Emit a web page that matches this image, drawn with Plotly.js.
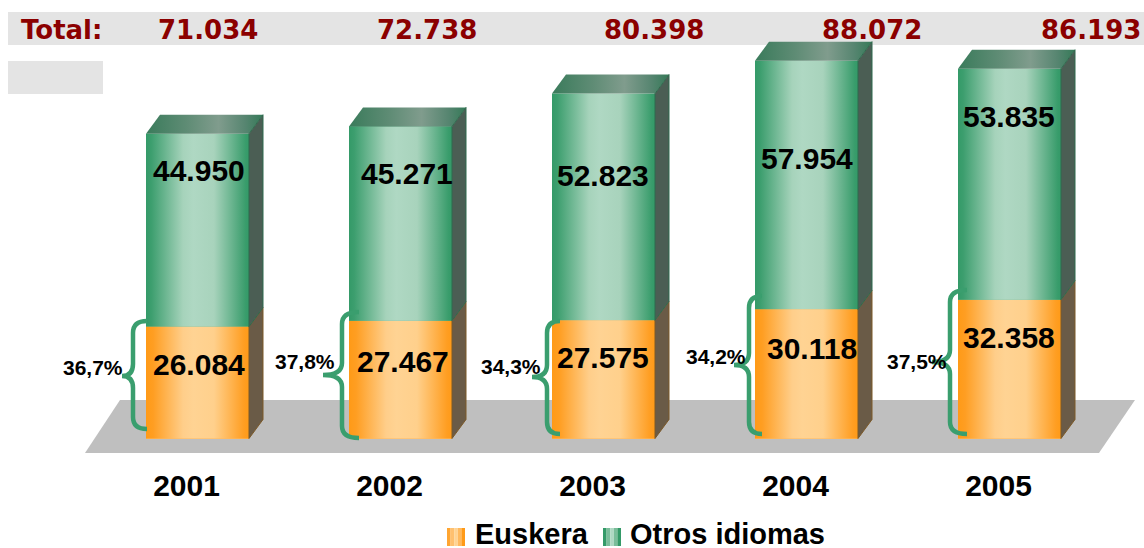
<!DOCTYPE html>
<html><head><meta charset="utf-8">
<script src="https://cdn.plot.ly/plotly-3.0.1.min.js"></script>
<style>html,body{margin:0;padding:0;background:#fff}#c{width:1144px;height:548px}</style>
</head><body><div id="c"></div>
<script>
// ---- data ----
const years = [2001, 2002, 2003, 2004, 2005];
const euskera = [26084, 27467, 27575, 30118, 32358];
const otros = [44950, 45271, 52823, 57954, 53835];
const totals = ['71.034', '72.738', '80.398', '88.072', '86.193'];
const euskeraLabels = ['26.084', '27.467', '27.575', '30.118', '32.358'];
const otrosLabels = ['44.950', '45.271', '52.823', '57.954', '53.835'];
const shares = ['36,7%', '37,8%', '34,3%', '34,2%', '37,5%'];

// ---- page layout (pixels) ----
const W = 1144, H = 548, plotBottom = 465, baseY = 438.5, pxPerUnit = 0.00429;
const x0px = 197.5, pxPerYear = 203, barPx = 103, depthX = 14, depthY = 19, tickShiftPx = 11;
const px = v => v / W, py = v => 1 - v / plotBottom;
const xRange = [years[0] - x0px / pxPerYear, years[0] + (W - x0px) / pxPerYear];
const yRange = [-(plotBottom - baseY) / pxPerUnit, baseY / pxPerUnit];
const hw = barPx / 2 / pxPerYear, dx = depthX / pxPerYear, dy = depthY / pxPerUnit;

const greenScale = [[0,'#349A68'],[0.05,'#3C9E6E'],[0.36,'#A6D3BB'],[0.46,'#AFD8C3'],[0.66,'#A8D3BC'],[0.97,'#389C6B'],[1,'#349A68']];
const orangeScale = [[0,'#FF9A17'],[0.07,'#FF9E22'],[0.36,'#FFCE8A'],[0.46,'#FFD393'],[0.66,'#FFD08C'],[0.95,'#FF9E22'],[1,'#FF9A17']];
const topScale = [[0,'#3A7B5B'],[0.35,'#5F8C75'],[0.62,'#809C8D'],[0.85,'#568570'],[1,'#357A58']];

function poly(xs, ys, opts) {
  return Object.assign({type:'scatter', mode:'lines', x:[...xs, xs[0]], y:[...ys, ys[0]],
    fill:'toself', hoverinfo:'skip', showlegend:false, line:{width:0}}, opts);
}
const grad = s => ({fillgradient:{type:'horizontal', colorscale:s}});

const traces = [
  {type:'bar', name:'Euskera', x:years, y:euskera, width:barPx/pxPerYear, marker:{color:'#FFB95F', line:{width:0}}, showlegend:false},
  {type:'bar', name:'Otros idiomas', x:years, y:otros, width:barPx/pxPerYear, marker:{color:'#6DB592', line:{width:0}}, showlegend:false}
];
years.forEach((yr, i) => {
  const l = yr - hw, r = yr + hw, b = euskera[i], t = euskera[i] + otros[i];
  traces.push(poly([l,r,r,l],[0,0,b,b], grad(orangeScale)));
  traces.push(poly([l,r,r,l],[b,b,t,t], grad(greenScale)));
  traces.push(poly([l,r,r+dx,l+dx],[t,t,t+dy,t+dy], grad(topScale)));
  traces.push(poly([r,r+dx,r+dx,r],[0,dy,b+dy,b], {fillcolor:'#6A5B47', line:{width:1,color:'#7D5A28'}}));
  traces.push(poly([r,r+dx,r+dx,r],[b,b+dy,t+dy,t], {fillcolor:'#4B5E54', line:{width:1,color:'#2F6B4E'}}));
});

// ---- decoration ----
const rect = (x0,y0,x1,y1,color) => ({type:'rect', xref:'paper', yref:'paper', x0:px(x0), x1:px(x1), y0:py(y0), y1:py(y1), fillcolor:color, line:{width:0}, layer:'below'});
const P = (x,y) => px(x).toFixed(5)+','+py(y).toFixed(5);
function brace(tipX, tipY, spine, endX, topY, botY) {
  const c = 12;
  const path = 'M'+P(endX,topY)+' Q'+P(spine,topY)+' '+P(spine,topY+c)
    +' L'+P(spine,tipY-c)+' Q'+P(spine,tipY)+' '+P(tipX,tipY)
    +' Q'+P(spine,tipY)+' '+P(spine,tipY+c)
    +' L'+P(spine,botY-c)+' Q'+P(spine,botY)+' '+P(endX,botY);
  return {type:'path', xref:'paper', yref:'paper', path, line:{color:'#3A9E6E', width:4.5}, layer:'above'};
}
const shapes = [
  rect(8,12,W,45,'#E4E4E4'),
  rect(8,61,103,94,'#E4E4E4'),
  {type:'path', xref:'paper', yref:'paper', layer:'below', fillcolor:'#BFBFBF', line:{width:0},
   path:'M'+P(85,453)+' L'+P(120,400)+' L'+P(1135,400)+' L'+P(1099,453)+' Z'},
  brace(122,376,133,147,321,429),
  brace(323,375,342,359,312,438),
  brace(532,377,547,560,321,434),
  brace(734,365,749,762,296,434),
  brace(932,362,950,967,290,434)
];
// legend swatches (striped)
const stripes = (x, cols) => cols.map((c,k) => rect(x+k*3.6, 528, x+(k+1)*3.6, 546, c));
stripes(447,['#FFA531','#FFC06F','#FFD393','#FFB95F','#FF9A17']).forEach(s=>{s.layer='above';shapes.push(s)});
stripes(603,['#349A68','#7ABD9A','#AFD8C3','#7ABD9A','#349A68']).forEach(s=>{s.layer='above';shapes.push(s)});

const ann = (text,x,y,size,color,family) => ({text, xref:'paper', yref:'paper', x:px(x), y:py(y), xanchor:'center', yanchor:'middle', showarrow:false,
  font:{family:family||'Liberation Sans, Arial, sans-serif', size, color:color||'#000', weight:700}});
const verd = 'DejaVu Sans, Verdana, sans-serif';
const totalX = [208, 427, 654, 872, 1091];
const otrosPos = [[199,171],[407,173],[603,176],[807,158],[1009,117]];
const euskPos = [[199,364],[403,361],[603,357],[812,348],[1009,337]];
const sharePos = [[93,367],[305,361],[511,366],[716,356],[917,361]];
const annotations = [ann('Total:',61,30,26,'#8B0000',verd)];
totals.forEach((t,i)=>annotations.push(ann(t,totalX[i],30,26,'#8B0000',verd)));
otrosLabels.forEach((t,i)=>annotations.push(ann(t,otrosPos[i][0],otrosPos[i][1],30)));
euskeraLabels.forEach((t,i)=>annotations.push(ann(t,euskPos[i][0],euskPos[i][1],30)));
shares.forEach((t,i)=>annotations.push(ann(t,sharePos[i][0],sharePos[i][1],21)));
const legE = ann('Euskera',531.5,533,29); legE.height = 29;
const legO = ann('Otros idiomas',727,533,29); legO.height = 29;
annotations.push(legE, legO);

Plotly.newPlot('c', traces, {
  width:W, height:H, barmode:'stack', showlegend:false,
  paper_bgcolor:'#fff', plot_bgcolor:'rgba(0,0,0,0)',
  margin:{l:0,r:0,t:0,b:H-plotBottom,pad:0},
  xaxis:{range:xRange, tickmode:'array', tickvals:years.map(y=>y-tickShiftPx/pxPerYear), ticktext:years.map(String), showgrid:false, zeroline:false, showline:false, ticks:'', ticklen:0,
    tickfont:{family:'Liberation Sans, Arial, sans-serif', size:30, color:'#000', weight:700}},
  yaxis:{range:yRange, visible:false, showgrid:false, zeroline:false},
  shapes, annotations
}, {displayModeBar:false, staticPlot:true});
</script></body></html>
